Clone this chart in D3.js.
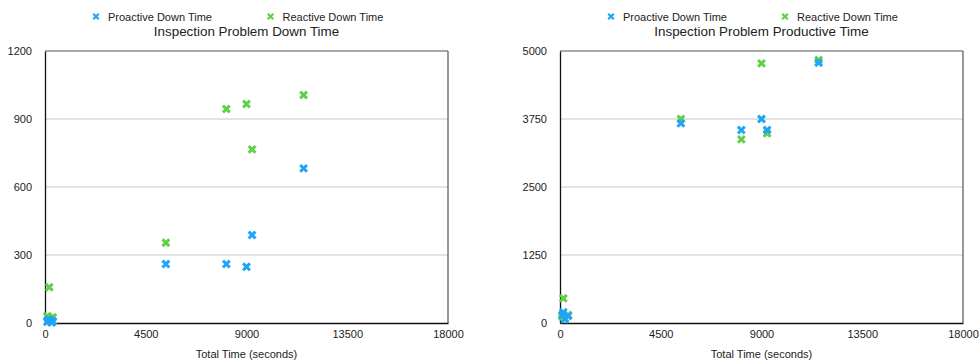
<!DOCTYPE html>
<html><head><meta charset="utf-8">
<script src="https://cdn.jsdelivr.net/npm/d3@7"></script>
<style>body{margin:0;background:#fff}svg{display:block}text{font-family:"Liberation Sans",Arial,sans-serif;fill:#222}</style>
</head><body><svg id="c" width="980" height="360"></svg>
<script>
const seriesNames = ["Proactive Down Time", "Reactive Down Time"];
const xTicks = [0, 4500, 9000, 13500, 18000];
// Chart 1: Inspection Problem Down Time
const downTotal     = [100, 250, 300, 150, 350, 190, 5400, 8100, 9000, 9250, 11550];
const downProactive = [5, 10, 2, 15, 8, null, 260, 260, 248, 388, 682];
const downReactive  = [30, 20, 10, 25, 25, 158, 354, 944, 966, 766, 1006];
const downYTicks = [0, 300, 600, 900, 1200];
// Chart 2: Inspection Problem Productive Time
const prodTotal     = [150, 360, 220, 100, 5400, 8100, 9000, 9250, 11550];
const prodProactive = [200, 130, 70, 150, 3670, 3547, 3750, 3547, 4785];
const prodReactive  = [454, 150, 90, 120, 3750, 3376, 4773, 3486, 4834];
const prodYTicks = [0, 1250, 2500, 3750, 5000];

const colors = ["#1ea5f7", "#5fd147"];
const svg = d3.select("#c");

function xMark(g, size, sw, color) {
  g.append("path").attr("d", `M${-size},${-size}L${size},${size}M${-size},${size}L${size},${-size}`)
    .attr("stroke", color).attr("stroke-width", sw).attr("fill", "none");
}

function chart(left, title, totals, pro, rea, yTicks, legendX) {
  const W = 403, top = 51, bottom = 323;
  const g = svg.append("g");
  const x = d3.scaleLinear().domain([0, 18000]).range([left, left + W]);
  const y = d3.scaleLinear().domain([0, yTicks[yTicks.length - 1]]).range([bottom, top]);
  // gridlines
  g.selectAll(".grid").data(yTicks.slice(1, -1)).join("line")
    .attr("x1", left).attr("x2", left + W).attr("y1", d => y(d)).attr("y2", d => y(d))
    .attr("stroke", "#c6c6c6").attr("stroke-width", 1);
  // frame
  g.append("line").attr("x1", left).attr("x2", left + W).attr("y1", top).attr("y2", top).attr("stroke", "#555").attr("stroke-width", 1.2);
  g.append("line").attr("x1", left + W).attr("x2", left + W).attr("y1", top).attr("y2", bottom).attr("stroke", "#555").attr("stroke-width", 1.2);
  // axes
  const xa = g.append("g").attr("transform", `translate(0,${bottom})`)
    .call(d3.axisBottom(x).tickValues(xTicks).tickSize(0).tickPadding(7).tickFormat(d3.format("d")));
  xa.select(".domain").attr("stroke", "#111").attr("stroke-width", 1.3);
  xa.selectAll("text").style("font-size", "11px").attr("fill", "#222");
  const ya = g.append("g").attr("transform", `translate(${left},0)`)
    .call(d3.axisLeft(y).tickValues(yTicks).tickSize(0).tickPadding(13).tickFormat(d3.format("d")));
  ya.select(".domain").attr("stroke", "#111").attr("stroke-width", 1.3);
  ya.selectAll("text").style("font-size", "11px").attr("fill", "#222");
  // points: reactive first? draw reactive then proactive on top
  const drawSeries = (vals, color) => {
    totals.forEach((t, i) => {
      if (vals[i] == null) return;
      const m = g.append("g").attr("transform", `translate(${x(t)},${y(vals[i])})`);
      xMark(m, 3.4, 3, color);
    });
  };
  drawSeries(rea, colors[1]);
  drawSeries(pro, colors[0]);
  // title
  g.append("text").attr("x", left + W / 2).attr("y", 36).attr("text-anchor", "middle")
    .style("font-size", "13.4px").text(title);
  // legend
  seriesNames.forEach((n, i) => {
    const lx = legendX[i];
    const m = g.append("g").attr("transform", `translate(${lx},16.5)`);
    xMark(m, 2.8, 2.2, colors[i]);
    g.append("text").attr("x", lx + 12).attr("y", 20.5).style("font-size", "11px").text(n);
  });
  // x axis title
  g.append("text").attr("x", left + W / 2).attr("y", 358).attr("text-anchor", "middle")
    .style("font-size", "11px").text("Total Time (seconds)");
}

chart(45, "Inspection Problem Down Time", downTotal, downProactive, downReactive, downYTicks, [96, 270.5]);
chart(560, "Inspection Problem Productive Time", prodTotal, prodProactive, prodReactive, prodYTicks, [611, 785]);
</script></body></html>
